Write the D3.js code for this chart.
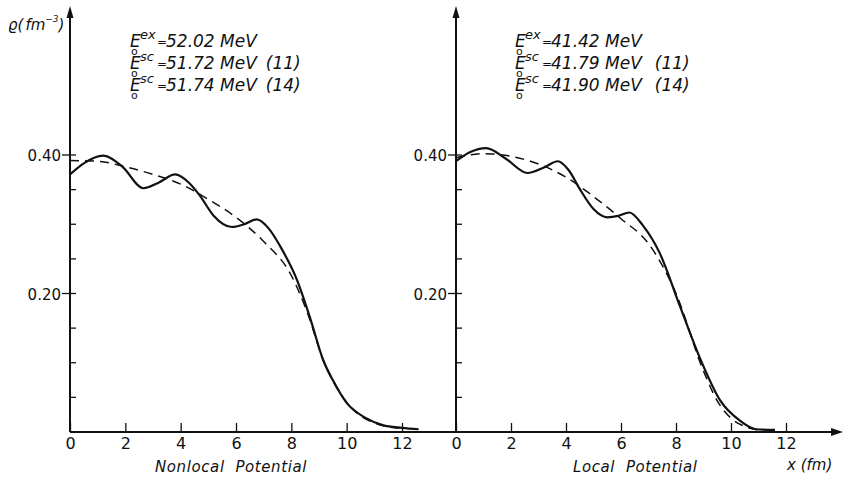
<!DOCTYPE html>
<html>
<head>
<meta charset="utf-8">
<script src="https://cdn.jsdelivr.net/npm/d3@7"></script>
<style>
  body { margin: 0; background: #fff; }
  svg { display: block; }
  text { font-family: "DejaVu Sans", sans-serif; fill: #111; }
</style>
</head>
<body>
<svg id="chart" width="844" height="479"></svg>
<script>
// axis ticks
var xTicks = [0, 2, 4, 6, 8, 10, 12];
var yMajor = [0.20, 0.40];
var yMinor = [0.05, 0.10, 0.15, 0.25, 0.30, 0.35];

// density curves, [x (fm), rho (fm^-3)]
var nonlocalSolid = [[0, 0.372], [0.5, 0.388], [1.2, 0.399], [1.9, 0.383], [2.65, 0.352],
  [3.2, 0.360], [3.8, 0.372], [4.3, 0.360], [4.7, 0.341], [5.2, 0.312], [5.85, 0.296],
  [6.3, 0.300], [6.75, 0.307], [7.2, 0.293], [7.6, 0.268], [8.2, 0.220], [8.7, 0.162],
  [9.15, 0.104], [9.5, 0.075], [10, 0.042], [10.7, 0.020], [11.3, 0.010], [12, 0.006], [12.6, 0.004]];
var nonlocalDashed = [[0, 0.392], [1, 0.391], [2, 0.383], [3, 0.372], [4, 0.358], [5, 0.336],
  [6, 0.310], [7, 0.275], [8, 0.226], [8.6, 0.170], [9.15, 0.104], [10, 0.043], [11, 0.013], [12, 0.005]];
var localSolid = [[0, 0.391], [0.5, 0.404], [1.1, 0.410], [1.8, 0.395], [2.6, 0.374],
  [3.2, 0.382], [3.7, 0.391], [4.1, 0.378], [4.5, 0.351], [5.0, 0.322], [5.5, 0.310],
  [5.9, 0.312], [6.3, 0.317], [6.8, 0.298], [7.4, 0.259], [8.15, 0.181], [8.9, 0.104],
  [9.6, 0.046], [10.3, 0.017], [10.9, 0.004], [11.6, 0.003]];
var localDashed = [[0, 0.396], [1, 0.402], [2, 0.398], [3, 0.387], [4, 0.368], [5, 0.340],
  [6, 0.308], [7, 0.272], [8, 0.200], [9, 0.088], [9.5, 0.045], [10, 0.020], [10.5, 0.008], [11, 0.003]];

// energy labels
var energySups = ['ex', 'sc', 'sc'];
var nonlocalEnergies = ['52.02 MeV', '51.72 MeV', '51.74 MeV'];
var localEnergies = ['41.42 MeV', '41.79 MeV', '41.90 MeV'];
var energyRefs = ['', '(11)', '(14)'];

var svg = d3.select('#chart');

var y = d3.scaleLinear().domain([0, 0.4]).range([432, 155]);

var panels = [
  { name: 'Nonlocal Potential', solid: nonlocalSolid, dashed: nonlocalDashed, energies: nonlocalEnergies,
    x: d3.scaleLinear().domain([0, 12]).range([70, 402]), textX: 130, nameX: 155, refGap: 9 },
  { name: 'Local Potential', solid: localSolid, dashed: localDashed, energies: localEnergies,
    x: d3.scaleLinear().domain([0, 12]).range([456, 786]), textX: 515, nameX: 573, refGap: 13 }
];

// shared x axis line with arrow
svg.append('line')
  .attr('x1', 70).attr('x2', 836)
  .attr('y1', y(0)).attr('y2', y(0))
  .attr('stroke', '#111').attr('stroke-width', 2);
svg.append('path')
  .attr('d', 'M843,' + y(0) + 'L831,' + (y(0) - 4) + 'L831,' + (y(0) + 4) + 'Z')
  .attr('fill', '#111');

svg.append('text')
  .attr('x', 787).attr('y', 470)
  .style('font-size', '15px').style('font-style', 'italic')
  .attr('xml:space', 'preserve')
  .text('x (fm)');

panels.forEach(function(p) {
  var g = svg.append('g');
  var x0 = p.x(0);

  // vertical axis with arrow
  g.append('line')
    .attr('x1', x0).attr('x2', x0)
    .attr('y1', y(0)).attr('y2', 16)
    .attr('stroke', '#111').attr('stroke-width', 2);
  g.append('path')
    .attr('d', 'M' + x0 + ',6L' + (x0 - 3.5) + ',18L' + (x0 + 3.5) + ',18Z')
    .attr('fill', '#111');

  // minor y ticks point inward
  g.selectAll('.minor')
    .data(yMinor)
    .enter().append('line')
    .attr('x1', x0).attr('x2', x0 + 6)
    .attr('y1', function(d) { return y(d); })
    .attr('y2', function(d) { return y(d); })
    .attr('stroke', '#111').attr('stroke-width', 1.3);

  g.selectAll('.major')
    .data(yMajor)
    .enter().append('line')
    .attr('x1', x0 - 8).attr('x2', x0 + 6)
    .attr('y1', function(d) { return y(d); })
    .attr('y2', function(d) { return y(d); })
    .attr('stroke', '#111').attr('stroke-width', 1.3);

  g.selectAll('.ylab')
    .data(yMajor)
    .enter().append('text')
    .attr('x', x0 - 9)
    .attr('y', function(d) { return y(d) + 6; })
    .attr('text-anchor', 'end')
    .style('font-size', '15px')
    .text(function(d) { return d3.format('.2f')(d); });

  // x ticks point upward
  var ax = d3.axisBottom(p.x)
    .tickValues(xTicks)
    .tickSize(-9)
    .tickSizeOuter(0)
    .tickPadding(0)
    .tickFormat(d3.format('d'));
  var axg = g.append('g')
    .attr('transform', 'translate(0,' + y(0) + ')')
    .call(ax);
  axg.select('.domain').remove();
  axg.selectAll('.tick line').attr('stroke', '#111').attr('stroke-width', 1.3);
  axg.selectAll('.tick text')
    .attr('y', 17).attr('dy', null)
    .attr('fill', '#111')
    .style('font-family', '"DejaVu Sans", sans-serif')
    .style('font-size', '16px');

  // curves
  var line = d3.line()
    .x(function(d) { return p.x(d[0]); })
    .y(function(d) { return y(d[1]); })
    .curve(d3.curveMonotoneX);

  g.append('path')
    .datum(p.dashed)
    .attr('d', line)
    .attr('fill', 'none')
    .attr('stroke', '#111')
    .attr('stroke-width', 1.5)
    .attr('stroke-dasharray', '9,6');

  g.append('path')
    .datum(p.solid)
    .attr('d', line)
    .attr('fill', 'none')
    .attr('stroke', '#111')
    .attr('stroke-width', 2.2);

  // panel name
  g.append('text')
    .attr('x', p.nameX).attr('y', 472)
    .attr('xml:space', 'preserve')
    .style('font-size', '15px').style('font-style', 'italic')
    .style('letter-spacing', '0.6px')
    .text(p.name.replace(' ', '  '));

  // energy annotations, one text per line
  p.energies.forEach(function(val, i) {
    var tx = p.textX, ty = 47 + i * 22;
    var t = g.append('text').attr('x', tx).attr('y', ty)
      .style('font-size', '17px').style('font-style', 'italic');
    t.append('tspan').text('E');
    t.append('tspan').attr('x', tx + 1).attr('dy', 8)
      .style('font-size', '11px').style('font-style', 'normal').text('o');
    t.append('tspan').attr('x', tx + 10).attr('dy', -16)
      .style('font-size', '13px').text(energySups[i]);
    t.append('tspan').attr('x', tx + 27).attr('dy', 7)
      .style('font-size', '12px').style('font-style', 'normal').text('=');
    t.append('tspan').attr('x', tx + 36).attr('dy', 1).text(val);
    if (energyRefs[i]) {
      t.append('tspan').attr('dx', p.refGap).text(energyRefs[i]);
    }
  });
});

// y axis title
var title = svg.append('text')
  .attr('x', 8).attr('y', 30)
  .style('font-size', '15px').style('font-style', 'italic');
title.append('tspan').text('\u03f1(');
title.append('tspan').attr('dx', 2).text('fm');
title.append('tspan').attr('dy', -8).style('font-size', '9px').text('\u22123');
title.append('tspan').attr('dy', 8).text(')');
</script>
</body>
</html>
